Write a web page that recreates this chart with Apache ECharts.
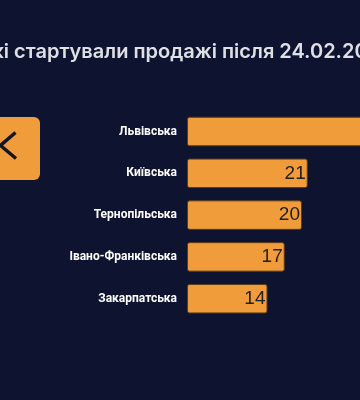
<!DOCTYPE html>
<html>
<head>
<meta charset="utf-8">
<style>
html,body{margin:0;padding:0;background:#0e1330;}
#c{width:360px;height:400px;}
</style>
<script src="https://cdn.jsdelivr.net/npm/echarts@6/dist/echarts.min.js"></script>
</head>
<body>
<div id="c"></div>
<script>
const titleText = "які стартували продажі після 24.02.2022";
const categories = ["Львівська", "Київська", "Тернопільська", "Івано-Франківська", "Закарпатська"];
const values = [36, 21, 20, 17, 14];

const chart = echarts.init(document.getElementById('c'), null, {renderer: 'canvas'});
chart.setOption({
  backgroundColor: '#0e1330',
  animation: false,
  graphic: [
    {
      type: 'text', left: -19, top: 42,
      style: { text: titleText, fill: '#dfe0e6', font: '600 20px Inter, "Noto Sans", sans-serif' }
    },
    {
      type: 'rect', shape: { x: -20, y: 117, width: 60, height: 63, r: 6 },
      style: { fill: '#f09c3a' }
    },
    {
      type: 'polyline', shape: { points: [[15.5, 132.5], [0.5, 145.5], [16, 158.5]] },
      style: { stroke: '#111526', lineWidth: 3.5, fill: null, lineJoin: 'miter' }
    }
  ],
  grid: { left: 187, top: 110.6, width: 230, height: 209, containLabel: false, outerBoundsMode: 'none' },
  xAxis: {
    type: 'value', min: 0, max: 40,
    axisLine: { show: false }, axisTick: { show: false },
    axisLabel: { show: false }, splitLine: { show: false }
  },
  yAxis: {
    type: 'category', data: categories, inverse: true,
    axisLine: { show: false }, axisTick: { show: false },
    axisLabel: { color: '#ffffff', fontSize: 12, fontWeight: 'bold',
      fontFamily: 'Roboto, "Liberation Sans", Arial, sans-serif', margin: 10 }
  },
  series: [{
    type: 'bar', data: values, barWidth: 29.5,
    itemStyle: { color: '#f09c3a', borderColor: '#5a3c18', borderWidth: 1, borderRadius: 2 },
    label: { show: true, position: 'insideRight', distance: 2, color: '#1e1e24',
      fontSize: 19, fontFamily: '"Liberation Sans", Arial, sans-serif' }
  }]
});
</script>
</body>
</html>
